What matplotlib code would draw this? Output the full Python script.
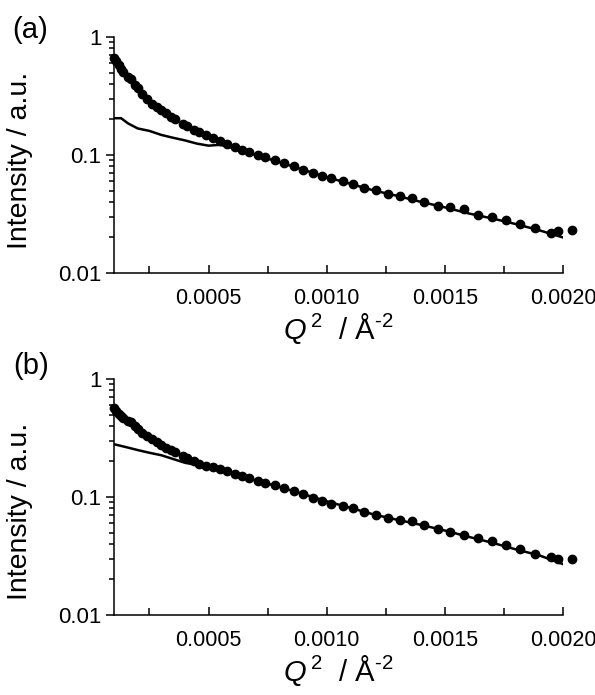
import matplotlib
matplotlib.use("Agg")
import matplotlib.pyplot as plt
from matplotlib.ticker import FixedLocator, FormatStrFormatter, LogLocator, NullFormatter

plt.rcParams['font.family'] = ['Liberation Sans', 'DejaVu Sans']
plt.rcParams['mathtext.fontset'] = 'custom'
plt.rcParams['mathtext.rm'] = 'Liberation Sans'
plt.rcParams['mathtext.it'] = 'Liberation Sans:italic'

# Q^2 of measured points (same grid for both panels)
q2_data = [0.00010, 0.00011, 0.00012, 0.00013, 0.00014, 0.00016, 0.00017, 0.00019,
           0.00020, 0.00022, 0.00024, 0.00026, 0.00028, 0.00030, 0.00032, 0.00034,
           0.00036, 0.00039, 0.00041, 0.00044, 0.00046, 0.00049, 0.00052, 0.00055,
           0.00058, 0.00061, 0.00064, 0.00067, 0.00071, 0.00074, 0.00078, 0.00082,
           0.00086, 0.00090, 0.00094, 0.00098, 0.00102, 0.00107, 0.00111, 0.00116,
           0.00121, 0.00126, 0.00131, 0.00136, 0.00141, 0.00147, 0.00152, 0.00158,
           0.00164, 0.00170, 0.00176, 0.00182, 0.00188, 0.00195, 0.00198, 0.00204]

int_a = [0.66, 0.62, 0.58, 0.54, 0.51, 0.46, 0.44, 0.39,
         0.37, 0.33, 0.30, 0.27, 0.255, 0.24, 0.225, 0.21,
         0.20, 0.183, 0.175, 0.163, 0.156, 0.147, 0.139, 0.131,
         0.124, 0.117, 0.111, 0.106, 0.100, 0.096, 0.090, 0.085,
         0.080, 0.075, 0.070, 0.067, 0.064, 0.060, 0.057, 0.053,
         0.051, 0.047, 0.045, 0.043, 0.040, 0.037, 0.036, 0.035,
         0.031, 0.030, 0.028, 0.026, 0.024, 0.022, 0.0225, 0.023]

int_b = [0.57, 0.54, 0.51, 0.49, 0.47, 0.44, 0.43, 0.40,
         0.38, 0.35, 0.33, 0.31, 0.29, 0.275, 0.262, 0.25,
         0.24, 0.223, 0.213, 0.200, 0.190, 0.183, 0.178, 0.172,
         0.165, 0.158, 0.151, 0.144, 0.137, 0.132, 0.126, 0.119,
         0.113, 0.105, 0.099, 0.092, 0.088, 0.084, 0.080, 0.075,
         0.070, 0.067, 0.064, 0.062, 0.058, 0.054, 0.051, 0.048,
         0.045, 0.042, 0.039, 0.036, 0.033, 0.031, 0.030, 0.030]

# fitted curves
q2_fit_a = [0.00010, 0.00013, 0.00016, 0.00020, 0.00025, 0.00030, 0.00035, 0.00040,
            0.00045, 0.00050, 0.00055, 0.00060, 0.00070, 0.00080, 0.00090, 0.00100,
            0.00110, 0.00120, 0.00130, 0.00140, 0.00150, 0.00160, 0.00170, 0.00180,
            0.00190, 0.00200]
fit_a = [0.205, 0.205, 0.185, 0.168, 0.160, 0.148, 0.140, 0.133,
         0.125, 0.120, 0.122, 0.115, 0.100, 0.087, 0.075, 0.065,
         0.057, 0.050, 0.045, 0.040, 0.036, 0.032, 0.029, 0.026,
         0.023, 0.020]

q2_fit_b = [0.00010, 0.00015, 0.00020, 0.00025, 0.00030, 0.00035, 0.00040, 0.00045,
            0.00050, 0.00060, 0.00070, 0.00080, 0.00090, 0.00100, 0.00110, 0.00120,
            0.00130, 0.00140, 0.00150, 0.00160, 0.00170, 0.00180, 0.00190, 0.00200]
fit_b = [0.28, 0.265, 0.25, 0.237, 0.226, 0.210, 0.195, 0.187,
         0.180, 0.158, 0.138, 0.122, 0.106, 0.092, 0.081, 0.071,
         0.064, 0.058, 0.052, 0.046, 0.041, 0.036, 0.032, 0.027]

xticks = [0.0005, 0.0010, 0.0015, 0.0020]
xminor = [0.00025, 0.00075, 0.00125, 0.00175]

W, H = 595, 695
fig = plt.figure(figsize=(W / 100, H / 100), dpi=100)

panels = [
    ("(a)", q2_data, int_a, q2_fit_a, fit_a, 37, 273, 30, 12, 0.479),
    ("(b)", q2_data, int_b, q2_fit_b, fit_b, 379, 615, 366, 13, 0.44),
]

for tag, qx, iy, fx, fy, top, bot, tag_y, tag_x, ylab_y in panels:
    ax = fig.add_axes([114 / W, 1 - bot / H, (563 - 114) / W, (bot - top) / H])
    ax.plot(qx, iy, 'o', color='black', ms=6, clip_on=False, zorder=3)
    ax.plot(fx, fy, '-', color='black', lw=1.8, zorder=2)
    ax.set_yscale('log')
    ax.set_ylim(0.01, 1)
    ax.set_xlim(0.0001, 0.0020)

    ax.spines['top'].set_visible(False)
    ax.spines['right'].set_visible(False)
    ax.spines['left'].set_linewidth(1.1)
    ax.spines['bottom'].set_linewidth(1.1)

    ax.xaxis.set_major_locator(FixedLocator(xticks))
    ax.xaxis.set_minor_locator(FixedLocator(xminor))
    ax.xaxis.set_major_formatter(FormatStrFormatter('%.4f'))
    ax.tick_params(axis='x', which='major', direction='in', length=6, width=1.1,
                   pad=11, labelsize=15.5)
    ax.tick_params(axis='x', which='minor', direction='in', length=5, width=1.1)

    ax.yaxis.set_minor_locator(LogLocator(base=10, subs=range(2, 10), numticks=20))
    ax.yaxis.set_minor_formatter(NullFormatter())
    ax.set_yticks([0.01, 0.1, 1])
    ax.set_yticklabels(['0.01', '0.1', '1'])
    ax.tick_params(axis='y', which='major', direction='out', length=6, width=1.1,
                   pad=3, labelsize=16)
    ax.tick_params(axis='y', which='minor', direction='out', length=3.5, width=1.1)

    ax.set_ylabel('Intensity / a.u.', fontsize=20.5)
    ax.yaxis.set_label_coords(-0.18, ylab_y)
    ax.set_xlabel(r'$Q^{\,2}\ \ /\ \mathrm{Å}^{\text{-2}}$', fontsize=21, labelpad=1)

    fig.text(tag_x / W, 1 - tag_y / H, tag, fontsize=21, va='center', ha='left')

fig.savefig('out.png', dpi=100)
